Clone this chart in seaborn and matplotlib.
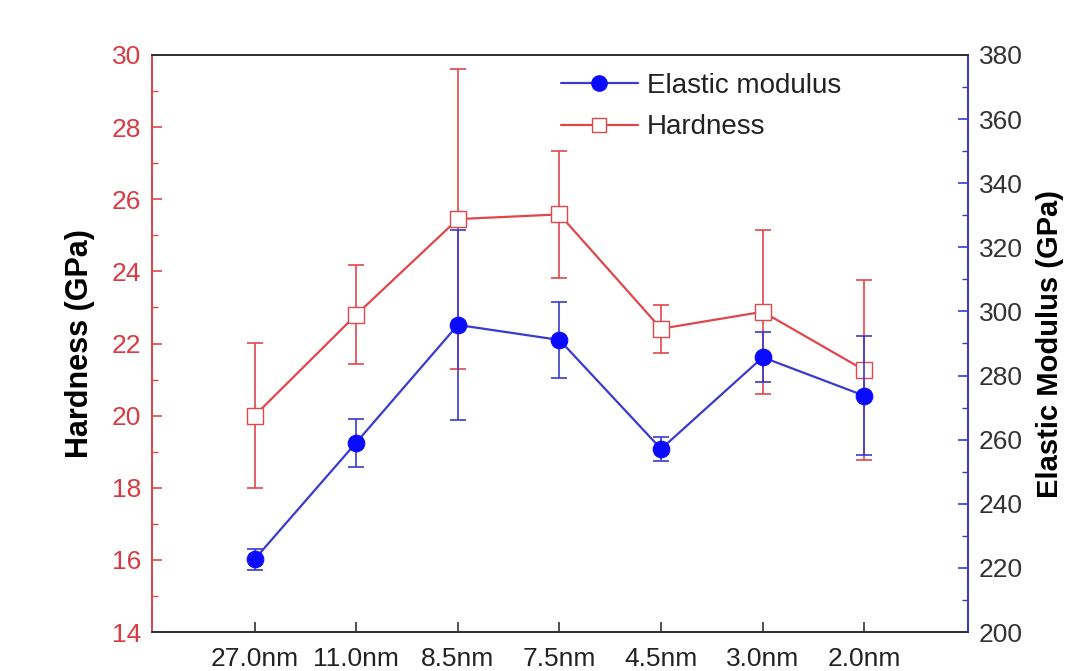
import matplotlib
matplotlib.use("Agg")
import matplotlib.pyplot as plt
from matplotlib.ticker import MultipleLocator
from matplotlib.lines import Line2D
import seaborn as sns
import numpy as np

categories = ["27.0nm", "11.0nm", "8.5nm", "7.5nm", "4.5nm", "3.0nm", "2.0nm"]
hardness = [20.0, 22.8, 25.45, 25.58, 22.41, 22.88, 21.26]
hardness_err = [2.02, 1.37, 4.17, 1.76, 0.67, 2.27, 2.5]
modulus = [222.7, 259.1, 295.8, 291.1, 257.1, 285.7, 273.7]
modulus_err = [3.3, 7.5, 29.7, 12.0, 3.6, 7.8, 18.6]

sns.set_theme(style="white")
plt.rcParams["font.family"] = ["Liberation Sans", "DejaVu Sans"]

RED = "#e0474c"
BLUE = "#0a0aff"
BLUE_LINE = "#3a3ad0"
GRAY = "#333333"

fig = plt.figure(figsize=(10.7, 6.71), dpi=100)
ax = fig.add_subplot(111)
fig.subplots_adjust(left=152/1070, right=968/1070, top=1-55/671, bottom=1-632/671)
ax2 = ax.twinx()

x = np.arange(len(categories))

# Hardness (left axis)
ax.errorbar(x, hardness, yerr=hardness_err, fmt="none", ecolor=RED, elinewidth=1.2,
            capsize=6, capthick=1.2, zorder=2)
sns.lineplot(x=x, y=hardness, ax=ax, color=RED, linewidth=1.6, marker="s",
             markersize=11, markerfacecolor="white", markeredgecolor=RED,
             markeredgewidth=1.0, zorder=3, legend=False)

# Elastic modulus (right axis)
ax2.errorbar(x, modulus, yerr=modulus_err, fmt="none", ecolor=BLUE_LINE, elinewidth=1.2,
             capsize=6, capthick=1.2, zorder=2)
sns.lineplot(x=x, y=modulus, ax=ax2, color=BLUE_LINE, linewidth=1.6, marker="o",
             markersize=12, markerfacecolor=BLUE, markeredgecolor=BLUE,
             zorder=3, legend=False)

ax.set_xlim(-1.01, 7.02)
ax.set_ylim(14, 30)
ax2.set_ylim(200, 380)

ax.set_xticks(x)
ax.set_xticklabels(categories)
ax.yaxis.set_major_locator(MultipleLocator(2))
ax.yaxis.set_minor_locator(MultipleLocator(1))
ax2.yaxis.set_major_locator(MultipleLocator(20))
ax2.yaxis.set_minor_locator(MultipleLocator(10))

ax.tick_params(axis="x", direction="in", length=7, width=1.2, colors=GRAY,
               labelsize=19, labelcolor="#222222", pad=11, bottom=True, top=False)
ax.tick_params(axis="y", which="major", direction="in", length=7, width=1.2,
               colors=RED, labelsize=19, labelcolor="#d63c42", pad=8, left=True, right=False)
ax.tick_params(axis="y", which="minor", direction="in", length=4, width=1.0,
               colors=RED, left=True, right=False)
ax2.tick_params(axis="y", which="major", direction="in", length=7, width=1.2,
                colors=BLUE_LINE, labelsize=19, labelcolor="#333333", pad=8, right=True, left=False)
ax2.tick_params(axis="y", which="minor", direction="in", length=4, width=1.0,
                colors=BLUE_LINE, right=True, left=False)

for a in (ax, ax2):
    for s in a.spines.values():
        s.set_visible(True)
        s.set_linewidth(1.4)
    a.spines["top"].set_color(GRAY)
    a.spines["bottom"].set_color(GRAY)
    a.spines["left"].set_color(RED)
    a.spines["right"].set_color(BLUE_LINE)
    a.grid(False)

ax.set_ylabel("Hardness (GPa)", fontsize=22, fontweight="bold", color="black", labelpad=12)
ax2.set_ylabel("Elastic Modulus (GPa)", fontsize=21, fontweight="bold", color="black", labelpad=9)
ax.set_xlabel("")

handles = [
    Line2D([0], [0], color=BLUE_LINE, linewidth=1.6, marker="o", markersize=11,
           markerfacecolor=BLUE, markeredgecolor=BLUE),
    Line2D([0], [0], color=RED, linewidth=1.6, marker="s", markersize=10,
           markerfacecolor="white", markeredgecolor=RED),
]
ax2.legend(handles, ["Elastic modulus", "Hardness"], loc="upper left",
           bbox_to_anchor=(0.47, 1.012), frameon=False, fontsize=20,
           handlelength=2.8, labelspacing=0.55, handletextpad=0.3, labelcolor="#222222")

fig.savefig("out.png", dpi=100)
